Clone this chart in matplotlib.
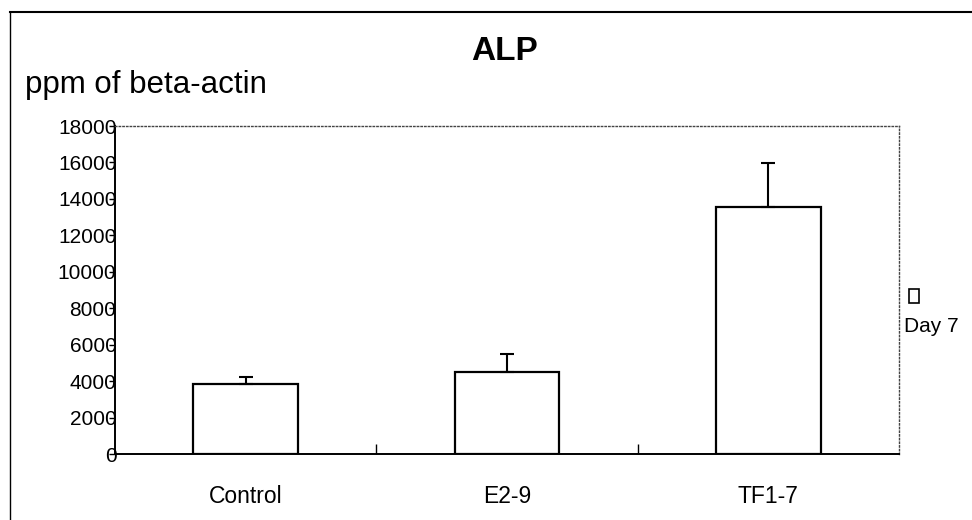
import matplotlib.pyplot as plt
from matplotlib.lines import Line2D
from matplotlib.patches import Rectangle

plt.rcParams['font.family'] = ['Liberation Sans', 'DejaVu Sans']

categories = ['Control', 'E2-9', 'TF1-7']
values = [3840, 4500, 13550]
errors = [390, 990, 2420]
yticks = list(range(0, 18001, 2000))

fig = plt.figure(figsize=(9.72, 5.2), dpi=100)
ax = fig.add_axes([115 / 972, 1 - 454 / 520, 784 / 972, 328 / 520])

x = range(len(categories))
ax.bar(x, values, width=0.40, color='white', edgecolor='black', linewidth=1.6)
ax.errorbar(x, values, yerr=[[0] * 3, errors], fmt='none', ecolor='black',
            elinewidth=1.5, capsize=5, capthick=1.5)

ax.set_xlim(-0.5, 2.5)
ax.set_ylim(0, 18000)
ax.set_yticks(yticks)
ax.set_yticklabels([str(v) for v in yticks], fontsize=15)
ax.set_xticks(list(x))
ax.set_xticklabels(categories, fontsize=16.5)
ax.set_xticks([0.5, 1.5], minor=True)
ax.tick_params(axis='x', which='major', length=0, pad=22)
ax.tick_params(axis='x', which='minor', direction='in', length=7, width=1)
ax.tick_params(axis='y', direction='out', length=4, width=1, pad=-5)

for s in ['left', 'bottom']:
    ax.spines[s].set_linewidth(1.4)
for s in ['top', 'right']:
    ax.spines[s].set_linestyle(':')
    ax.spines[s].set_linewidth(1.0)
    ax.spines[s].set_color('#444444')

fig.text(505 / 972, 1 - 52 / 520, 'ALP', fontsize=24, fontweight='bold',
         ha='center', va='center')
fig.text(25 / 972, 1 - 85 / 520, 'ppm of beta-actin', fontsize=22.5,
         ha='left', va='center')

# legend
fig.patches.append(Rectangle((909 / 972, 1 - 303 / 520), 10 / 972, 14 / 520,
                             transform=fig.transFigure, facecolor='white',
                             edgecolor='black', linewidth=1.2))
fig.text(904 / 972, 1 - 326 / 520, 'Day 7', fontsize=15, ha='left', va='center')

# outer frame
fig.lines.append(Line2D([10 / 972, 1], [1 - 12 / 520, 1 - 12 / 520],
                        transform=fig.transFigure, color='black', linewidth=1.5))
fig.lines.append(Line2D([10 / 972, 10 / 972], [0, 1 - 12 / 520],
                        transform=fig.transFigure, color='black', linewidth=1.0))

fig.savefig('out.png', dpi=100)
